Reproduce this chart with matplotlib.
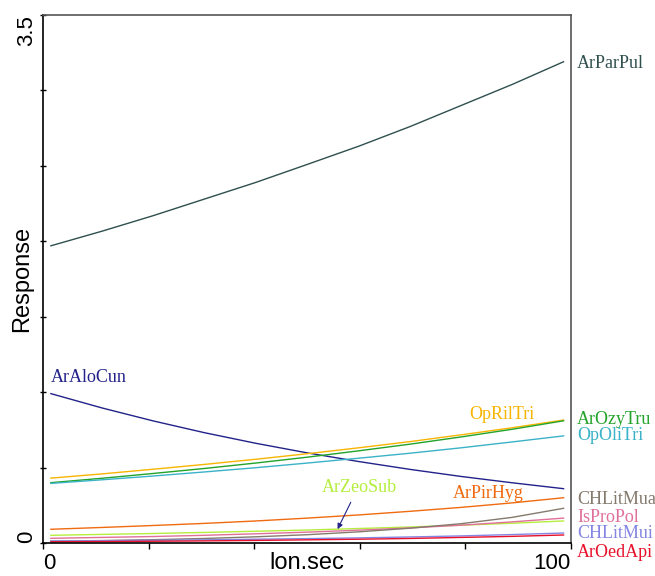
import numpy as np
import matplotlib.pyplot as plt
from matplotlib import transforms

# response curves along lon.sec
lon_sec = [1.5, 11.2, 20.9, 30.6, 40.3, 50.1, 59.8, 69.5, 79.2, 88.9, 98.6]

ArParPul = [1.97, 2.067, 2.17, 2.28, 2.39, 2.51, 2.63, 2.76, 2.90, 3.04, 3.19]
ArAloCun = [0.99, 0.895, 0.809, 0.731, 0.661, 0.597, 0.540, 0.488, 0.441, 0.399, 0.36]
OpRilTri = [0.43, 0.458, 0.489, 0.521, 0.555, 0.592, 0.631, 0.672, 0.717, 0.764, 0.815]
ArOzyTru = [0.40, 0.429, 0.461, 0.494, 0.530, 0.569, 0.611, 0.655, 0.703, 0.754, 0.81]
OpOliTri = [0.395, 0.419, 0.444, 0.471, 0.499, 0.530, 0.562, 0.595, 0.631, 0.670, 0.71]
ArPirHyg = [0.091, 0.103, 0.116, 0.130, 0.146, 0.165, 0.186, 0.210, 0.236, 0.266, 0.30]
ArZeoSub = [0.051, 0.057, 0.063, 0.070, 0.078, 0.086, 0.096, 0.106, 0.118, 0.131, 0.146]
IsProPol = [0.031, 0.037, 0.043, 0.051, 0.061, 0.072, 0.085, 0.100, 0.118, 0.140, 0.165]
CHLitMua = [0.012, 0.016, 0.022, 0.030, 0.041, 0.055, 0.074, 0.098, 0.128, 0.17, 0.23]
CHLitMui = [0.013, 0.015, 0.018, 0.021, 0.025, 0.029, 0.034, 0.040, 0.047, 0.056, 0.066]
ArOedApi = [0.008, 0.0097, 0.0117, 0.014, 0.017, 0.021, 0.025, 0.030, 0.037, 0.044, 0.053]

series = {
    "ArParPul": (ArParPul, "#2f4f4f"),
    "ArAloCun": (ArAloCun, "#22228a"),
    "OpRilTri": (OpRilTri, "#f7b500"),
    "ArOzyTru": (ArOzyTru, "#23a32a"),
    "OpOliTri": (OpOliTri, "#3ab2c8"),
    "ArPirHyg": (ArPirHyg, "#f06a10"),
    "ArZeoSub": (ArZeoSub, "#b5ee3c"),
    "IsProPol": (IsProPol, "#e0709a"),
    "CHLitMua": (CHLitMua, "#857a6e"),
    "CHLitMui": (CHLitMui, "#8585e3"),
    "ArOedApi": (ArOedApi, "#e8102a"),
}

plt.rcParams['font.family'] = ['Liberation Sans', 'DejaVu Sans']
serif = ['Liberation Serif', 'DejaVu Serif']

fig = plt.figure(figsize=(6.55, 5.76), dpi=100)
ax = fig.add_axes([0.0656, 0.0573, 0.8061, 0.9167])

for name, (vals, col) in series.items():
    ax.plot(lon_sec, vals, color=col, lw=1.0)

ax.set_xlim(0, 100)
ax.set_ylim(0, 3.5)

ax.set_xticks(np.arange(0, 101, 20))
ax.set_yticks(np.arange(0, 3.51, 0.5))
ax.set_xticklabels([])
ax.set_yticklabels([])
ax.tick_params(axis='x', direction='out', length=4, width=1)
ax.tick_params(axis='y', direction='inout', length=5, width=1)

for s in ['left', 'bottom']:
    ax.spines[s].set_color('black')
    ax.spines[s].set_linewidth(1.2)
for s in ['top', 'right']:
    ax.spines[s].set_color('#555555')
    ax.spines[s].set_linewidth(1.2)

# axis text placed by hand
ax.text(0, -0.019, "0", transform=ax.transAxes, ha='left', va='top', fontsize=16)
ax.text(1, -0.019, "100", transform=ax.transAxes, ha='right', va='top', fontsize=16)
ax.text(0.5, -0.017, "lon.sec", transform=ax.transAxes, ha='center', va='top', fontsize=17)
ax.text(-0.012, 0, "0", transform=ax.transAxes, ha='right', va='bottom', rotation=90, fontsize=16)
ax.text(-0.012, 1, "3.5", transform=ax.transAxes, ha='right', va='top', rotation=90, fontsize=16)
ax.text(-0.018, 0.5, "Response", transform=ax.transAxes, ha='right', va='center', rotation=90, fontsize=17)

# labels inside the panel
inner = {"ArAloCun": (1.5, 1.10), "OpRilTri": (80.8, 0.85),
         "ArPirHyg": (77.7, 0.325), "ArZeoSub": (52.8, 0.37)}
for name, (lx, ly) in inner.items():
    ax.text(lx, ly, name, color=series[name][1], fontsize=13, family=serif,
            ha='left', va='center')

# labels beside the right edge
trans = transforms.blended_transform_factory(ax.transAxes, ax.transData)
outer = {"ArParPul": 3.18, "ArOzyTru": 0.82, "OpOliTri": 0.71,
         "CHLitMua": 0.285, "IsProPol": 0.172, "CHLitMui": 0.06, "ArOedApi": -0.06}
for name, ly in outer.items():
    ax.text(1.012, ly, name, color=series[name][1], fontsize=13, family=serif,
            ha='left', va='center', transform=trans, clip_on=False)

# pointer from the ArZeoSub label to its curve
px = 55.8
py = np.interp(px, lon_sec, ArZeoSub)
ax.annotate("", xy=(px, py), xytext=(58.3, 0.27),
            arrowprops=dict(arrowstyle='-|>', color='#22228a', lw=0.8,
                            mutation_scale=8, shrinkA=0, shrinkB=0))

fig.savefig("out.png", dpi=100)
